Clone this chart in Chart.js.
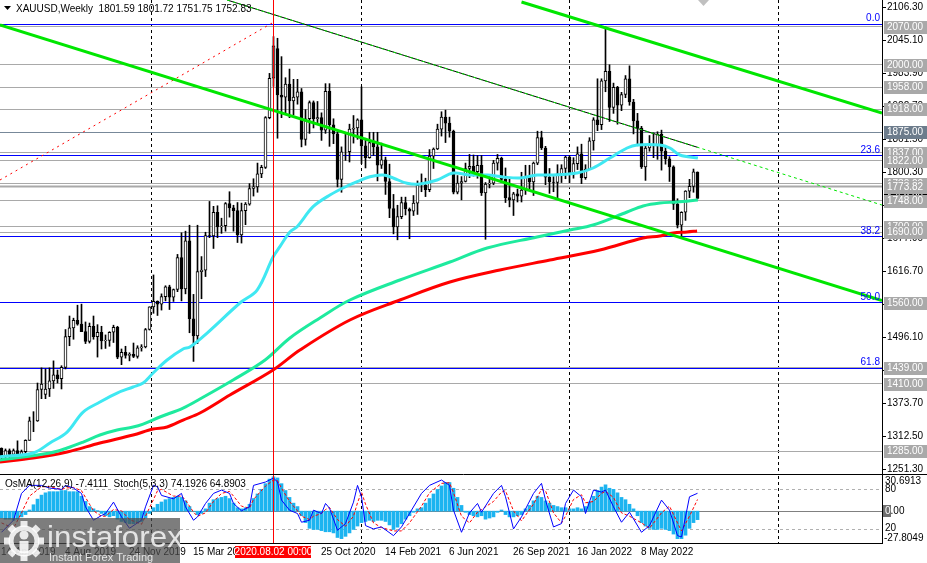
<!DOCTYPE html>
<html>
<head>
<meta charset="utf-8">
<script src="https://cdn.jsdelivr.net/npm/chart.js@4.4.0/dist/chart.umd.min.js"></script>
<style>
  html, body { margin: 0; padding: 0; background: #fff; width: 927px; height: 563px; overflow: hidden; }
  canvas { position: absolute; left: 0; }
  #main { top: 0; }
  #osc { top: 474px; }
</style>
</head>
<body>
<canvas id="main" width="927" height="474" style="width:927px;height:474px"></canvas>
<canvas id="osc" width="927" height="89" style="width:927px;height:89px"></canvas>
<script>
// XAUUSD weekly, week 0 = 14 Apr 2019

const FONT = '10px "Liberation Sans", Arial, sans-serif';

const opens = [1290,1276,1286,1279,1286,1277,1284,1305,1341,1341,1399,1390,1400,1415,1426,1419,1440,1497,1513,1527,
  1520,1506,1488,1516,1497,1505,1489,1490,1505,1514,1459,1468,1462,1464,1460,1476,1478,1510,1552,1562,
  1557,1571,1589,1570,1584,1643,1585,1674,1530,1498,1617,1620,1684,1683,1727,1700,1702,1743,1735,1730,
  1685,1730,1742,1771,1774,1798,1810,1902,1975,2030,1944,1940,1964,1933,1940,1950,1862,1900,1930,1900,
  1902,1879,1951,1889,1872,1788,1839,1839,1881,1883,1898,1850,1828,1856,1848,1814,1824,1784,1734,1700,
  1719,1745,1733,1729,1744,1777,1777,1769,1831,1844,1881,1903,1892,1877,1764,1781,1784,1808,1812,1802,
  1814,1763,1779,1781,1818,1827,1788,1754,1750,1761,1757,1768,1793,1783,1818,1865,1846,1792,1783,1782,
  1798,1808,1829,1797,1817,1835,1791,1807,1859,1898,1889,1970,1988,1921,1958,1925,1945,1974,1931,1896,
  1883,1811,1846,1853,1850,1871,1840,1826,1811,1742,1703,1727,1766,1775,1801.59];
const highs = [1291,1289,1289,1289,1304,1287,1306,1348,1358,1411,1439,1437,1439,1452,1435,1443,1510,1535,1531,1555,
  1557,1524,1522,1535,1519,1516,1500,1506,1518,1516,1474,1479,1467,1485,1480,1482,1512,1552,1611,1563,
  1576,1591,1592,1585,1649,1689,1692,1703,1575,1703,1645,1690,1747,1738,1739,1716,1745,1765,1740,1745,
  1744,1745,1780,1789,1818,1814,1904,1984,2052,2049,2015,1976,1992,1973,1973,1956,1917,1933,1933,1932,
  1911,1965,1965,1900,1876,1848,1875,1890,1906,1900,1959,1864,1875,1875,1875,1855,1829,1816,1760,1740,
  1755,1755,1735,1758,1785,1798,1790,1843,1846,1890,1913,1916,1903,1879,1795,1793,1818,1834,1833,1832,
  1832,1782,1795,1823,1834,1829,1809,1788,1764,1770,1801,1814,1814,1820,1877,1877,1849,1808,1793,1815,
  1815,1831,1832,1828,1848,1853,1815,1865,1902,1974,1974,2070,2000,1966,1960,1949,1980,1998,1936,1910,
  1886,1849,1869,1874,1876,1879,1847,1830,1813,1752,1728,1767,1788,1807,1801.72];
const lows = [1270,1266,1266,1275,1275,1273,1276,1305,1321,1340,1382,1382,1386,1401,1411,1400,1437,1480,1492,1518,
  1506,1484,1485,1492,1459,1474,1475,1479,1486,1456,1445,1457,1452,1458,1457,1470,1476,1509,1540,1536,
  1546,1563,1547,1562,1580,1563,1576,1504,1451,1484,1567,1608,1680,1660,1680,1688,1692,1718,1692,1671,
  1670,1704,1740,1757,1764,1791,1808,1900,1960,1864,1902,1911,1902,1907,1927,1848,1851,1873,1883,1890,
  1860,1873,1849,1854,1774,1764,1823,1820,1855,1862,1817,1809,1827,1832,1785,1808,1760,1717,1687,1676,
  1715,1722,1678,1721,1723,1765,1756,1765,1808,1843,1868,1856,1866,1761,1761,1750,1783,1791,1794,1790,
  1758,1677,1772,1778,1805,1782,1745,1737,1721,1746,1746,1760,1770,1758,1815,1843,1778,1762,1765,1753,
  1782,1789,1782,1790,1806,1780,1788,1806,1842,1878,1880,1950,1895,1910,1890,1915,1939,1925,1872,1850,
  1808,1786,1840,1828,1825,1805,1816,1784,1732,1698,1680,1712,1754,1764,1751.75];
const closes = [1276,1286,1279,1286,1277,1284,1305,1341,1341,1399,1409,1400,1415,1426,1419,1440,1497,1513,1527,1520,
  1506,1488,1516,1497,1505,1489,1490,1505,1514,1459,1468,1462,1464,1460,1476,1478,1510,1552,1562,1557,
  1571,1589,1570,1584,1643,1585,1674,1530,1498,1617,1620,1684,1683,1727,1700,1702,1743,1735,1730,1685,
  1730,1742,1771,1774,1798,1810,1902,1975,2035,1944,1940,1964,1933,1940,1950,1862,1900,1930,1900,1902,
  1879,1951,1889,1872,1788,1839,1839,1881,1883,1898,1850,1828,1856,1848,1814,1824,1784,1734,1700,1719,
  1745,1733,1729,1744,1777,1777,1769,1831,1844,1881,1903,1892,1877,1764,1781,1784,1808,1812,1802,1814,
  1763,1779,1781,1818,1827,1788,1754,1750,1761,1757,1768,1793,1783,1818,1865,1846,1792,1783,1782,1798,
  1808,1829,1797,1817,1835,1791,1807,1859,1898,1889,1970,1988,1921,1958,1925,1945,1974,1931,1896,1883,
  1811,1846,1853,1850,1871,1840,1826,1811,1742,1703,1727,1766,1775,1802,1752.83];

// moving averages: [week, price]
const maFastWeeks  = [-0.4,7.9,12.1,16.4,20.4,24.6,28.9,32.9,35.4,37.9,41.4,45.4,47.1,51.4,59.6,63.9,67.9,69.6,72.1,73.9,77.9,82.1,86.4,88.9,92.1,95.4,97.9,101.4,104.6,108.9,112.9,117.1,121.4,125.4,129.6,133.9,137.9,143.9,147.9,152.1,156.4,158.9,164.6,167.1,169.6,174.1];
const maFastPrices = [1274.6,1281.5,1300.0,1320.3,1357.3,1375.8,1392.5,1403.6,1411.0,1429.5,1453.6,1473.9,1477.6,1503.5,1559.1,1583.1,1644.2,1663.3,1690.5,1700.3,1737.3,1758.9,1775.6,1783.6,1792.8,1795.9,1790.4,1780.6,1779.3,1786.7,1799.6,1795.9,1795.9,1792.3,1790.4,1795.9,1795.9,1799.6,1808.9,1827.4,1845.9,1851.5,1851.5,1845.9,1833.0,1827.4];
const maMidWeeks   = [-0.4,12.1,16.4,20.4,24.6,28.9,32.9,35.4,39.6,45.4,49.6,57.9,65.9,72.1,79.6,87.1,99.6,112.1,121.4,133.9,142.1,147.9,156.4,160.4,164.6,168.9,174.1];
const maMidPrices  = [1268.5,1281.5,1290.7,1301.8,1314.8,1324.0,1329.6,1335.1,1348.1,1364.7,1381.4,1416.6,1453.6,1494.3,1531.3,1564.6,1601.6,1634.9,1660.8,1681.2,1694.2,1703.4,1727.5,1738.6,1744.1,1746.0,1749.7];
const maSlowWeeks  = [-0.4,7.9,16.4,24.6,32.9,37.9,41.4,45.4,49.6,57.1,67.9,74.6,87.1,99.6,112.1,124.6,137.1,149.6,160.4,164.6,167.9,171.4,173.9];
const maSlowPrices = [1264.8,1272.2,1283.3,1300.0,1314.8,1325.9,1329.6,1342.5,1355.5,1388.8,1435.1,1472.1,1527.6,1564.6,1597.9,1620.1,1638.6,1657.1,1679.4,1683.1,1688.6,1690.5,1692.3];

// trend lines: [week, price] end points
const trendMain   = [[-0.375, 2073.5], [220.125, 1563.5]];
const trendUpper  = [[130, 2116.1], [220.125, 1910.7]];
const trendDotted = [[56.4, 2119.8], [220.1, 1740.4]];
const trendDottedSolid = [[56.4, 2119.8], [174, 1847.2]];
const trendRed    = [[-0.375, 1786.7], [68.1, 2079.1]];

const PRICE_TICKS = [2106.30, 2045.10, 1983.90, 1922.70, 1861.50, 1800.30, 1739.10, 1677.90, 1616.70, 1555.50, 1496.10, 1434.90, 1373.70, 1312.50, 1251.30];
const LEVELS = [2070, 2000, 1958, 1918, 1875, 1837, 1822, 1780, 1773.82, 1748, 1700, 1690, 1560, 1439, 1410, 1285];
const LEVEL_DARK = 1875;
const FIBO_LEVELS = [2075, 1831.9, 1681.5, 1560, 1438.5];
const FIBO_NAMES  = ['0.0', '23.6', '38.2', '50.0', '61.8'];
const LAST_PRICE = 1752.83;

const YEAR_WEEKS = [37.6, 90, 142, 194.2];
const CROSS_WEEK = 68;
const DATE_WEEKS  = [0, 16, 32, 48, 80, 96, 112, 128, 144, 160];
const DATE_LABELS = ['14 Apr 2019', '4 Aug 2019', '24 Nov 2019', '15 Mar 2020', '25 Oct 2020', '14 Feb 2021', '6 Jun 2021', '26 Sep 2021', '16 Jan 2022', '8 May 2022'];

// oscillator
const osmaValues = [-6,-7,-7,-8,-7,-5,-3,1,5.6,10.5,14,16,17,17,17,18,18,17,17,17,13,8.5,4,2,0.5,-2,-4,-5,-4,-7,
  -9,-10,-11,-11,-10,-9,-6,-2,3,6,8,10,11,12,13,12,9,4,0,-3,-2,2,7,10,11,12,13,11,7,3,
  2,3,6,11,15,19,24,28,30,29,24,18,12,7,4,-4,-10,-15,-16,-16,-17,-18,-18,-19,-23,-24,-22,-19,-16,-13,
  -10,-9,-8,-9,-8,-8,-9,-12,-16,-14,-11,-7,-4,-1,2,3,7,11,15,19,22,25,25,20,12,5,-1,-3,-4,-5,
  -4,-7,-6,-5,-1,1,-3,-5,-5,-4,-3,2,5,9,13,12,9,7,5,4,3,3,2,2,3,2,4,8,13,18,
  21,23,20,19,16,12,10,6,2,-4,-10,-13,-15,-16,-16,-15,-16,-17,-20,-24,-24,-21,-15,-10,-7.4111];
const stochWeeks = [0,3,5,7,10,12,15,16,18,20,21,23,25,26,28,30,32,35,36,38,39,40,43,45,46,48,49,51,53,55,57,58,60,62,63,66,68,69,70,72,74,75,77,78,80,81,82,84,86,88,89,90,91,93,95,98,100,102,105,107,110,112,113,115,117,119,120,123,125,126,128,130,133,135,136,138,140,141,143,145,146,148,150,151,153,155,157,160,162,165,167,169,170,172,174];
const stochMain = [16,34,74,86,86,82,80,86,82,74,54,34,41,44,61,39,22,34,54,86,84,71,66,74,54,34,39,59,74,79,74,59,48,54,86,91,97,91,64,49,44,31,34,49,44,59,52,19,29,61,86,69,26,21,24,11,24,44,74,86,94,86,49,16,45,59,46,74,86,69,21,39,74,89,64,24,29,59,79,69,44,79,76,79,54,31,46,16,26,64,49,11,9,69,74.1926];
const stochSignal = [30,22,45,70,84,84,80,82,83,78,68,48,40,40,50,48,35,28,40,65,78,80,70,70,64,46,40,45,62,74,77,70,55,52,65,85,94,93,82,62,48,40,35,40,44,50,53,35,25,40,60,76,58,30,23,18,18,30,55,75,89,90,75,40,30,46,50,62,76,78,48,33,58,80,78,45,30,40,65,72,60,62,74,77,68,45,40,30,22,45,55,30,18,40,64.8903];

const X_MIN = -0.375, X_MAX = 220.125;

function pts(ws, vs) { return ws.map((w, k) => ({ x: w, y: vs[k] })); }
function pairs(a) { return a.map(p => ({ x: p[0], y: p[1] })); }

function hline(ctx, x1, x2, y) { ctx.beginPath(); ctx.moveTo(x1, y); ctx.lineTo(x2, y); ctx.stroke(); }
function vline(ctx, x, y1, y2) { ctx.beginPath(); ctx.moveTo(x, y1); ctx.lineTo(x, y2); ctx.stroke(); }
const snap = v => Math.round(v - 0.5) + 0.5;

// ─── MAIN PANEL ──────────────────────────────────────────────
const weeks = closes.map((c, i) => i);
const bodyColors = closes.map((c, i) => c >= opens[i] ? '#ffffff' : '#000000');

const mainDecor = {
  id: 'mainDecor',
  beforeDatasetsDraw(chart) {
    const { ctx, chartArea: a, scales: { x, y } } = chart;
    ctx.save();
    ctx.lineWidth = 1;
    ctx.strokeStyle = '#000';
    ctx.setLineDash([3, 3]);
    YEAR_WEEKS.forEach(w => vline(ctx, snap(x.getPixelForValue(w)), a.top, a.bottom));
    ctx.setLineDash([]);
    LEVELS.forEach(l => {
      ctx.strokeStyle = l === LEVEL_DARK ? '#778899' : '#A9A9A9';
      ctx.lineWidth = l === 1773.82 ? 2 : 1;
      hline(ctx, a.left, a.right, snap(y.getPixelForValue(l)));
    });
    ctx.lineWidth = 1;
    ctx.strokeStyle = '#0000FF';
    FIBO_LEVELS.forEach(l => hline(ctx, a.left, a.right, snap(y.getPixelForValue(l))));
    ctx.restore();
  },
  afterDatasetsDraw(chart) {
    const { ctx, chartArea: a, scales: { x, y } } = chart;
    ctx.save();
    // crosshair
    ctx.strokeStyle = '#FF0000';
    ctx.lineWidth = 1;
    vline(ctx, snap(x.getPixelForValue(CROSS_WEEK)), a.top, a.bottom);
    // fibo names
    ctx.font = FONT;
    ctx.fillStyle = '#0000FF';
    ctx.textAlign = 'right';
    ctx.textBaseline = 'alphabetic';
    FIBO_LEVELS.forEach((l, k) => ctx.fillText(FIBO_NAMES[k], a.right - 2, y.getPixelForValue(l) - 3));
    // right axis
    ctx.fillStyle = '#fff';
    ctx.fillRect(a.right, 0, chart.width - a.right, chart.height);
    ctx.strokeStyle = '#000';
    vline(ctx, a.right + 0.5, 0, chart.height);
    ctx.textAlign = 'left';
    ctx.textBaseline = 'middle';
    ctx.fillStyle = '#000';
    PRICE_TICKS.forEach(t => {
      const py = snap(y.getPixelForValue(t));
      hline(ctx, a.right, a.right + 4, py);
      ctx.fillText(t.toFixed(2), a.right + 5, py);
    });
    const box = (v, bg, fg) => {
      const py = Math.round(y.getPixelForValue(v));
      ctx.fillStyle = bg;
      ctx.fillRect(a.right + 2, py - 6, 43, 13);
      ctx.fillStyle = fg;
      ctx.fillText(v.toFixed(2), a.right + 5, py + 0.5);
    };
    box(LAST_PRICE, '#000', '#fff');
    LEVELS.forEach(l => box(l, l === LEVEL_DARK ? '#6D7C8C' : '#A9A9A9', '#fff'));
    // header
    ctx.fillStyle = '#000';
    ctx.beginPath(); ctx.moveTo(4, 6); ctx.lineTo(11, 6); ctx.lineTo(7.5, 10); ctx.closePath(); ctx.fill();
    ctx.textBaseline = 'alphabetic';
    ctx.fillText('XAUUSD,Weekly  1801.59 1801.72 1751.75 1752.83', 16, 12);
    // shift marker
    ctx.fillStyle = '#C0C0C0';
    ctx.beginPath(); ctx.moveTo(698, 0); ctx.lineTo(709, 0); ctx.lineTo(703.5, 6); ctx.closePath(); ctx.fill();
    ctx.restore();
  }
};

new Chart(document.getElementById('main'), {
  type: 'bar',
  data: {
    datasets: [
      { type: 'line', data: pairs(trendMain), borderColor: '#00E600', borderWidth: 3, pointRadius: 0 },
      { type: 'line', data: pairs(trendUpper), borderColor: '#00E600', borderWidth: 3, pointRadius: 0 },
      { type: 'line', data: pairs(trendDotted), borderColor: '#00E600', borderWidth: 1, borderDash: [3, 3], pointRadius: 0 },
      { type: 'line', data: pairs(trendDottedSolid), borderColor: '#000', borderWidth: 1, pointRadius: 0 },
      { type: 'line', data: pairs(trendRed), borderColor: '#FF0000', borderWidth: 1, borderDash: [2, 4], pointRadius: 0 },
      { type: 'line', data: pts(maFastWeeks, maFastPrices), borderColor: '#3FE8F2', borderWidth: 3, pointRadius: 0, tension: 0.35 },
      { type: 'line', data: pts(maMidWeeks, maMidPrices), borderColor: '#1EEA9E', borderWidth: 3, pointRadius: 0, tension: 0.35 },
      { type: 'line', data: pts(maSlowWeeks, maSlowPrices), borderColor: '#FF0000', borderWidth: 3, pointRadius: 0, tension: 0.35 },
      { type: 'bar', data: weeks.map(i => ({ x: i, y: [opens[i], closes[i]] })), backgroundColor: bodyColors, borderColor: '#000', borderWidth: 1, borderSkipped: false, barThickness: 3, grouped: false },
      { type: 'bar', data: weeks.map(i => ({ x: i, y: [lows[i], highs[i]] })), backgroundColor: '#000', borderWidth: 0, barThickness: 1, grouped: false },
    ],
  },
  options: {
    responsive: false,
    animation: false,
    devicePixelRatio: 1,
    layout: { padding: { left: 0, right: 45, top: 0, bottom: 0 } },
    plugins: { legend: { display: false }, tooltip: { enabled: false } },
    scales: {
      x: { type: 'linear', min: X_MIN, max: X_MAX, offset: false, display: false },
      y: { min: 1242.63, max: 2119.81, display: false },
    },
  },
  plugins: [mainDecor],
});

// ─── OSCILLATOR PANEL ────────────────────────────────────────
const oscDecor = {
  id: 'oscDecor',
  beforeDatasetsDraw(chart) {
    const { ctx, chartArea: a, scales: { x, y, s } } = chart;
    ctx.save();
    ctx.lineWidth = 1;
    ctx.strokeStyle = '#000';
    ctx.setLineDash([3, 3]);
    YEAR_WEEKS.forEach(w => vline(ctx, snap(x.getPixelForValue(w)), a.top, a.bottom));
    ctx.strokeStyle = '#B0B0B0';
    [80, 20].forEach(v => hline(ctx, a.left, a.right, snap(s.getPixelForValue(v))));
    ctx.setLineDash([]);
    ctx.strokeStyle = '#808080';
    hline(ctx, a.left, a.right, snap(y.getPixelForValue(0)));
    ctx.restore();
  },
  afterDatasetsDraw(chart) {
    const { ctx, chartArea: a, scales: { x, y, s } } = chart;
    ctx.save();
    ctx.lineWidth = 1;
    ctx.strokeStyle = '#FF0000';
    vline(ctx, snap(x.getPixelForValue(CROSS_WEEK)), 0, a.bottom);
    ctx.fillStyle = '#fff';
    ctx.fillRect(a.right, 0, chart.width - a.right, chart.height);
    ctx.fillRect(0, a.bottom + 1, chart.width, chart.height);
    ctx.strokeStyle = '#000';
    hline(ctx, 0, chart.width, 0.5);
    hline(ctx, 0, a.right, a.bottom + 0.5);
    vline(ctx, a.right + 0.5, 0, a.bottom + 1);
    ctx.font = FONT;
    ctx.fillStyle = '#000';
    ctx.textBaseline = 'alphabetic';
    ctx.fillText('OsMA(12,26,9) -7.4111  Stoch(5,3,3) 74.1926 64.8903', 5, 13);
    // right labels
    ctx.textBaseline = 'middle';
    ctx.fillText('30.6913', a.right + 3, y.getPixelForValue(30.6913) + 5);
    ctx.fillText('80', a.right + 3, s.getPixelForValue(80));
    ctx.fillText('0.00', a.right + 3, y.getPixelForValue(0));
    ctx.fillText('20', a.right + 3, s.getPixelForValue(20) - 1);
    ctx.fillText('-27.8049', a.right + 2, y.getPixelForValue(-27.8049) - 5);
    const zy = Math.round(y.getPixelForValue(0));
    ctx.fillStyle = '#6E6E6E';
    ctx.fillRect(a.right + 1, zy - 6, 8, 12);
    ctx.fillStyle = '#fff';
    ctx.fillText('0', a.right + 3, zy);
    // time axis
    ctx.fillStyle = '#000';
    ctx.textBaseline = 'alphabetic';
    DATE_WEEKS.forEach((w, k) => ctx.fillText(DATE_LABELS[k], Math.round(x.getPixelForValue(w)) - 1, 81));
    const cx = x.getPixelForValue(CROSS_WEEK);
    ctx.fillStyle = '#FF0000';
    ctx.fillRect(Math.round(cx) - 39, 72, 76, 12);
    ctx.fillStyle = '#fff';
    ctx.textAlign = 'center';
    ctx.fillText('2020.08.02 00:00', cx, 81);
    // watermark
    ctx.textAlign = 'left';
    ctx.fillStyle = 'rgba(75,75,75,0.72)';
    ctx.fillRect(0, 44, 180, 45);
    ctx.strokeStyle = 'rgba(255,255,255,0.85)';
    ctx.lineWidth = 5;
    ctx.beginPath(); ctx.arc(24, 67, 13, 0, Math.PI * 2); ctx.stroke();
    ctx.fillStyle = 'rgba(255,255,255,0.85)';
    for (let k = 0; k < 8; k++) {
      const ang = k * Math.PI / 4;
      ctx.save(); ctx.translate(24, 67); ctx.rotate(ang); ctx.fillRect(-3.5, -20, 7, 6); ctx.restore();
    }
    ctx.beginPath(); ctx.arc(24, 61, 4.5, 0, Math.PI * 2); ctx.fill();
    ctx.fillRect(19.5, 67, 9, 12);
    ctx.fillStyle = 'rgba(255,255,255,0.8)';
    ctx.save();
    ctx.translate(47, 73);
    ctx.scale(1.08, 1);
    ctx.font = '29px "Liberation Sans", Arial, sans-serif';
    ctx.fillText('instaforex', 0, 0);
    ctx.restore();
    ctx.font = '11px "Liberation Sans", Arial, sans-serif';
    ctx.fillText('Instant Forex Trading', 49, 87);
    ctx.restore();
  }
};

new Chart(document.getElementById('osc'), {
  type: 'bar',
  data: {
    datasets: [
      { type: 'line', yAxisID: 's', data: pts(stochWeeks, stochMain), borderColor: '#0000FF', borderWidth: 1, pointRadius: 0 },
      { type: 'line', yAxisID: 's', data: pts(stochWeeks, stochSignal), borderColor: '#FF0000', borderWidth: 1, borderDash: [3, 2], pointRadius: 0 },
      { type: 'bar', yAxisID: 'y', data: osmaValues.map((v, i) => ({ x: i, y: v })), backgroundColor: '#1CB4F0', barThickness: 3, grouped: false },
    ],
  },
  options: {
    responsive: false,
    animation: false,
    devicePixelRatio: 1,
    layout: { padding: { left: 0, right: 45, top: 2, bottom: 20 } },
    plugins: { legend: { display: false }, tooltip: { enabled: false } },
    scales: {
      x: { type: 'linear', min: X_MIN, max: X_MAX, offset: false, display: false },
      y: { min: -27.8049, max: 30.6913, display: false },
      s: { min: 0, max: 100, display: false },
    },
  },
  plugins: [oscDecor],
});
</script>
</body>
</html>
